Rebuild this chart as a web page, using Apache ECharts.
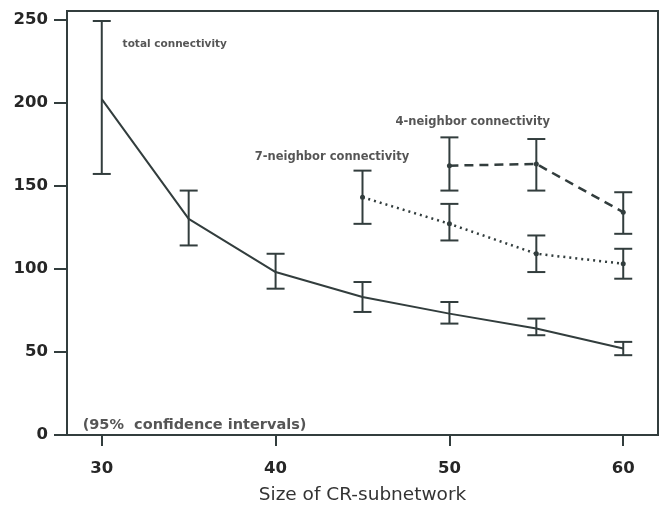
<!DOCTYPE html>
<html><head><meta charset="utf-8">
<script src="https://cdn.jsdelivr.net/npm/echarts@6/dist/echarts.min.js"></script>
<style>html,body{margin:0;padding:0;background:#fff}#c{width:667px;height:510px}</style>
</head><body><div id="c"></div>
<script>
// x categories (size of CR-subnetwork)
var xTotal = [30, 35, 40, 45, 50, 55, 60];
var totalMean = [202, 130, 98, 83, 73, 64, 52];
var totalLow  = [157, 114, 88, 74, 67, 60, 48];
var totalHigh = [249, 147, 109, 92, 80, 70, 56];

var x7 = [45, 50, 55, 60];
var n7Mean = [143, 127, 109, 103];
var n7Low  = [127, 117, 98, 94];
var n7High = [159, 139, 120, 112];

var x4 = [50, 55, 60];
var n4Mean = [162, 163, 134];
var n4Low  = [147, 147, 121];
var n4High = [179, 178, 146];

var xTicks = [30, 40, 50, 60];
var yTicks = [0, 50, 100, 150, 200, 250];

var annotations = [
  {x: 31.2, y: 235, text: 'total connectivity', size: 10.5},
  {x: 38.8, y: 167, text: '7-neighbor connectivity', size: 11.5},
  {x: 46.9, y: 188, text: '4-neighbor connectivity', size: 11.5},
  {x: 28.9, y: 6, text: '(95%  confidence intervals)', size: 14.5}
];

var INK = '#323d3d';

function pairs(xs, ys) { return xs.map(function (x, i) { return [x, ys[i]]; }); }
function triples(xs, lo, hi) { return xs.map(function (x, i) { return [x, lo[i], hi[i]]; }); }

function errRender(params, api) {
  var x = api.value(0);
  var lo = api.coord([x, api.value(1)]);
  var hi = api.coord([x, api.value(2)]);
  var hw = 9;
  var st = {stroke: INK, lineWidth: 2};
  return {type: 'group', children: [
    {type: 'line', shape: {x1: lo[0], y1: lo[1], x2: hi[0], y2: hi[1]}, style: st},
    {type: 'line', shape: {x1: lo[0] - hw, y1: lo[1], x2: lo[0] + hw, y2: lo[1]}, style: st},
    {type: 'line', shape: {x1: hi[0] - hw, y1: hi[1], x2: hi[0] + hw, y2: hi[1]}, style: st}
  ]};
}

var chart = echarts.init(document.getElementById('c'));
var labelFont = {fontFamily: 'DejaVu Sans', fontWeight: 'bold', fontSize: 16.5, color: '#262626'};
chart.setOption({
  animation: false,
  backgroundColor: '#fff',
  grid: {left: 67, right: 9, top: 11, bottom: 73, show: true, borderColor: INK, borderWidth: 2, backgroundColor: 'transparent'},
  xAxis: {
    type: 'value', min: 28, max: 62,
    name: 'Size of CR-subnetwork', nameLocation: 'middle', nameGap: 51,
    nameTextStyle: {fontFamily: 'DejaVu Sans', fontSize: 18.5, color: '#333'},
    axisLine: {show: true, onZero: false, lineStyle: {color: INK, width: 2}},
    axisTick: {show: true, length: 11, customValues: xTicks, lineStyle: {color: INK, width: 2}},
    axisLabel: Object.assign({margin: 25, customValues: xTicks}, labelFont),
    splitLine: {show: false}
  },
  yAxis: {
    type: 'value', min: 0, max: 255,
    axisLine: {show: true, onZero: false, lineStyle: {color: INK, width: 2}},
    axisTick: {show: true, length: 13, customValues: yTicks, lineStyle: {color: INK, width: 2}},
    axisLabel: Object.assign({margin: 19, customValues: yTicks}, labelFont),
    splitLine: {show: false}
  },
  series: [
    {type: 'line', data: pairs(xTotal, totalMean), showSymbol: false, symbol: 'none',
     lineStyle: {color: INK, width: 2}},
    {type: 'line', data: pairs(x7, n7Mean), symbol: 'circle', symbolSize: 5,
     itemStyle: {color: INK}, lineStyle: {color: INK, width: 2.5, type: [2, 4]}},
    {type: 'line', data: pairs(x4, n4Mean), symbol: 'circle', symbolSize: 5,
     itemStyle: {color: INK}, lineStyle: {color: INK, width: 2.5, type: [9, 6]}},
    {type: 'custom', renderItem: errRender, data: triples(xTotal, totalLow, totalHigh), encode: {x: 0, y: [1, 2]}},
    {type: 'custom', renderItem: errRender, data: triples(x7, n7Low, n7High), encode: {x: 0, y: [1, 2]}},
    {type: 'custom', renderItem: errRender, data: triples(x4, n4Low, n4High), encode: {x: 0, y: [1, 2]}},
    {type: 'scatter', symbolSize: 0, silent: true,
     data: annotations.map(function (a) {
       return {value: [a.x, a.y], label: {show: true, position: 'right', distance: 0, formatter: a.text,
         fontFamily: 'DejaVu Sans', fontWeight: 'bold', fontSize: a.size, color: '#2a2a2a'}};
     })}
  ]
});
</script></body></html>
